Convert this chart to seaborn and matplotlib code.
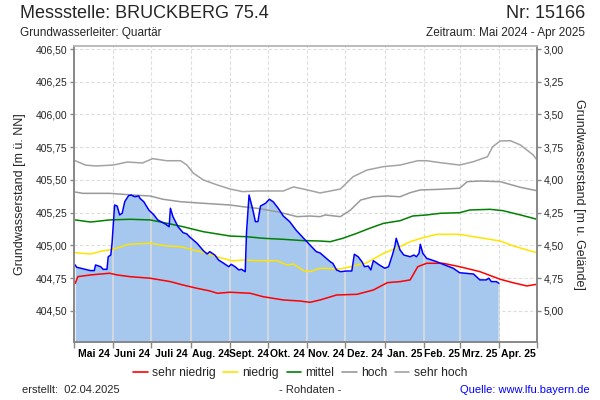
import numpy as np
import pandas as pd
import matplotlib
matplotlib.use('Agg')
import matplotlib.pyplot as plt
from matplotlib.ticker import FuncFormatter
from matplotlib.lines import Line2D
import seaborn as sns

START = '2024-05-01'
GROUND = 409.50

month_labels = ['Mai 24', 'Juni 24', 'Juli 24', 'Aug. 24', 'Sept. 24', 'Okt. 24',
                'Nov. 24', 'Dez. 24', 'Jan. 25', 'Feb. 25', 'Mrz. 25', 'Apr. 25']

# measured raw data (day offset from 2024-05-01, level m ü. NN)
mess_days = [1, 2, 13, 16, 17, 21, 23, 26, 27, 29, 30, 32, 34, 36, 38, 40, 43, 45, 48, 51,
             52, 55, 59, 63, 66, 72, 75, 76, 78, 82, 86, 89, 91, 97, 102, 105, 107, 111, 114, 118,
             122, 124, 127, 130, 132, 135, 136, 138, 141, 143, 145, 147, 151, 154, 157, 161, 165, 170, 175, 181,
             186, 191, 194, 202, 204, 207, 210, 215, 219, 221, 224, 227, 229, 232, 234, 236, 240, 245, 248, 251,
             253, 254, 257, 260, 265, 268, 270, 272, 273, 275, 278, 282, 286, 291, 299, 304, 315, 320, 325, 327,
             329, 333, 335]
mess_vals = [404.851, 404.834, 404.808, 404.808, 404.851, 404.838, 404.818, 404.818, 404.914, 404.927,
             405.017, 405.309, 405.301, 405.233, 405.246, 405.334, 405.380, 405.385, 405.372, 405.378,
             405.360, 405.334, 405.271, 405.233, 405.195, 405.164, 405.143, 405.284, 405.220, 405.143,
             405.098, 405.088, 405.067, 405.017, 404.960, 404.935, 404.953, 404.927, 404.889, 404.864,
             404.838, 404.856, 404.838, 404.813, 404.818, 404.800, 405.100, 405.385, 405.271, 405.182,
             405.182, 405.301, 405.322, 405.353, 405.334, 405.284, 405.225, 405.182, 405.118, 405.055,
             405.004, 404.953, 404.943, 404.876, 404.864, 404.813, 404.800, 404.805, 404.805, 404.933,
             404.914, 404.876, 404.838, 404.843, 404.813, 404.884, 404.856, 404.826, 404.838, 404.927,
             404.996, 405.055, 404.966, 404.927, 404.914, 404.927, 404.914, 404.940, 405.009, 404.940,
             404.902, 404.889, 404.876, 404.856, 404.826, 404.792, 404.782, 404.737, 404.737, 404.750,
             404.724, 404.724, 404.711]

sehr_niedrig_days = [1, 3, 13, 28, 34, 44, 60, 76, 86, 97, 107, 113, 123, 139, 149, 165, 178, 186, 194, 207,
                     223, 236, 247, 257, 265, 271, 278, 291, 304, 320, 336, 346, 357, 365]
sehr_niedrig_vals = [404.711, 404.762, 404.775, 404.788, 404.775, 404.762, 404.750, 404.724, 404.698, 404.673,
                     404.653, 404.635, 404.643, 404.635, 404.609, 404.584, 404.576, 404.566, 404.584, 404.622,
                     404.627, 404.660, 404.716, 404.724, 404.737, 404.838, 404.864, 404.864, 404.838, 404.800,
                     404.742, 404.716, 404.691, 404.704]

niedrig_days = [1, 13, 23, 31, 43, 60, 73, 84, 94, 105, 115, 125, 133, 144, 160, 168, 173, 181, 186, 194,
                210, 218, 231, 244, 257, 265, 275, 286, 304, 320, 336, 346, 357, 365]
niedrig_vals = [404.945, 404.935, 404.960, 404.971, 405.009, 405.017, 404.996, 404.991, 404.966, 404.940,
                404.907, 404.882, 404.889, 404.884, 404.884, 404.851, 404.859, 404.808, 404.800, 404.826,
                404.821, 404.838, 404.869, 404.940, 404.991, 405.029, 405.059, 405.085, 405.085, 405.059,
                405.034, 404.998, 404.966, 404.945]

mittel_days = [1, 13, 28, 44, 60, 76, 86, 102, 113, 123, 136, 149, 165, 181, 194, 202, 212, 223, 233, 244,
               257, 267, 278, 289, 304, 312, 328, 338, 352, 365]
mittel_vals = [405.195, 405.179, 405.195, 405.200, 405.195, 405.164, 405.143, 405.105, 405.088, 405.072,
               405.067, 405.055, 405.047, 405.037, 405.034, 405.029, 405.055, 405.093, 405.131, 405.169,
               405.189, 405.225, 405.233, 405.246, 405.250, 405.271, 405.276, 405.266, 405.233, 405.200]

hoch_days = [1, 7, 28, 50, 60, 70, 84, 102, 123, 133, 144, 160, 176, 186, 194, 198, 210, 218, 226, 236,
             247, 257, 265, 273, 289, 304, 310, 320, 336, 352, 362, 365]
hoch_vals = [405.408, 405.398, 405.398, 405.383, 405.378, 405.353, 405.334, 405.322, 405.309, 405.296,
             405.284, 405.258, 405.220, 405.225, 405.220, 405.233, 405.220, 405.271, 405.347, 405.372,
             405.378, 405.372, 405.403, 405.424, 405.429, 405.437, 405.487, 405.492, 405.487, 405.444,
             405.424, 405.418]

sehr_hoch_days = [1, 9, 17, 31, 42, 54, 62, 73, 84, 89, 94, 102, 113, 123, 133, 144, 165, 173, 184, 194,
                  210, 220, 231, 244, 257, 271, 278, 289, 304, 315, 326, 330, 336, 344, 352, 362, 365]
sehr_hoch_vals = [405.647, 405.614, 405.607, 405.614, 405.637, 405.630, 405.663, 405.647, 405.647, 405.614,
                  405.553, 405.500, 405.462, 405.431, 405.411, 405.416, 405.416, 405.447, 405.424, 405.401,
                  405.431, 405.525, 405.576, 405.602, 405.614, 405.647, 405.647, 405.632, 405.614, 405.640,
                  405.678, 405.754, 405.798, 405.800, 405.767, 405.691, 405.653]

series_names = ['sehr niedrig', 'niedrig', 'mittel', 'hoch', 'sehr hoch']
series_colors = ['#FF0000', '#FFE400', '#008000', '#9A9A9A', '#A3A3A3']


def to_dates(days):
    return pd.Timestamp(START) + pd.to_timedelta(days, unit='D')


sns.set_theme(style='white')
plt.rcParams['font.family'] = ['Liberation Sans', 'DejaVu Sans']

fig = plt.figure(figsize=(6, 4), dpi=100)
ax = fig.add_axes([74 / 600, 1 - 342 / 400, (537 - 74) / 600, (342 - 46) / 400])

y_bottom, y_top = 404.263, 406.523

# statistics lines
frames = []
for name, d, v in zip(series_names,
                      [sehr_niedrig_days, niedrig_days, mittel_days, hoch_days, sehr_hoch_days],
                      [sehr_niedrig_vals, niedrig_vals, mittel_vals, hoch_vals, sehr_hoch_vals]):
    frames.append(pd.DataFrame({'Datum': to_dates(d), 'Wert': v, 'Reihe': name}))
stats = pd.concat(frames, ignore_index=True)

mess_dates = to_dates(mess_days)
poly = ax.fill_between(mess_dates, mess_vals, y_bottom - 1, color='#A6C8EF', lw=0, zorder=1)

sns.lineplot(data=stats, x='Datum', y='Wert', hue='Reihe', hue_order=series_names,
             palette=dict(zip(series_names, series_colors)), estimator=None, lw=1.1,
             legend=False, ax=ax, zorder=2)
sns.lineplot(x=mess_dates, y=mess_vals, color='#0000FF', lw=1.1, estimator=None, ax=ax, zorder=3)

month_starts = pd.date_range('2024-05-01', '2025-05-01', freq='MS')
mids = month_starts[:-1] + (month_starts[1:] - month_starts[:-1]) / 2

ax.set_xlim(month_starts[0], month_starts[-1])
ax.set_ylim(y_bottom, y_top)

# light vertical lines through the filled area
clip_path = poly.get_paths()[0]
for m in month_starts[1:-1]:
    ln = ax.axvline(m, color='#DCDCDC', lw=1.2, zorder=1.5)
    ln.set_clip_path(clip_path, transform=ax.transData)

ax.set_xticks(month_starts)
ax.set_xticklabels([])
ax.set_xticks(mids, minor=True)
ax.set_xticklabels(month_labels, minor=True, fontweight='bold')
ax.tick_params(axis='x', which='major', length=4, width=1, color='#888888', direction='out', bottom=True)
ax.tick_params(axis='x', which='minor', length=0, pad=5, labelsize=7.5, labelcolor='black', bottom=True)

ax.set_yticks(np.arange(404.5, 406.51, 0.25))
fmt = FuncFormatter(lambda v, p: f"{v:.2f}".replace('.', ','))
ax.yaxis.set_major_formatter(fmt)
ax.tick_params(axis='y', length=3, width=1, color='#888888', labelsize=7.5, pad=2, left=True)

ax.grid(True, which='major', axis='both', color='#DDDDDD', ls=(0, (3, 2)), lw=0.8)
ax.set_axisbelow(True)
ax.set_xlabel('')
ax.set_ylabel('Grundwasserstand [m ü. NN]', fontsize=9, va='center')
ax.yaxis.set_label_coords(-0.1166, 0.5)

ax2 = ax.twinx()
ax2.set_ylim(GROUND - y_bottom, GROUND - y_top)
ax2.set_yticks(np.arange(3.0, 5.01, 0.25))
ax2.yaxis.set_major_formatter(fmt)
ax2.tick_params(axis='y', length=3, width=1, color='#888888', labelsize=7.5, pad=2, right=True)
ax2.grid(False)
ax2.set_ylabel('Grundwasserstand [m u. Gelände]', fontsize=9, rotation=270, va='center')
ax2.yaxis.set_label_coords(1.09, 0.5)

for a in (ax, ax2):
    for side in ('left', 'right', 'bottom'):
        a.spines[side].set_color('#888888')
        a.spines[side].set_linewidth(1.2)
    a.spines['top'].set_color('#BBBBBB')
    a.spines['top'].set_linewidth(1.2)

# texts
fig.text(20 / 600, 1 - 13 / 400, 'Messstelle: BRUCKBERG 75.4', fontsize=13, ha='left', va='center')
fig.text(585 / 600, 1 - 13 / 400, 'Nr: 15166', fontsize=13, ha='right', va='center')
fig.text(20 / 600, 1 - 33 / 400, 'Grundwasserleiter: Quartär', fontsize=8.5, ha='left', va='center')
fig.text(585 / 600, 1 - 33 / 400, 'Zeitraum: Mai 2024 - Apr 2025', fontsize=8.5, ha='right', va='center')
fig.text(22 / 600, 1 - 390 / 400, 'erstellt:  02.04.2025', fontsize=8, ha='left', va='center')
fig.text(310 / 600, 1 - 390 / 400, '- Rohdaten -', fontsize=8, ha='center', va='center')
fig.text(590 / 600, 1 - 390 / 400, 'Quelle: www.lfu.bayern.de', fontsize=8, color='#0000FF',
         ha='right', va='center')

handles = [Line2D([0], [0], color=c, lw=1.2) for c in series_colors]
fig.legend(handles, series_names, loc='center', bbox_to_anchor=(0.5, 1 - 373 / 400), ncol=5,
           frameon=False, fontsize=8.7, handlelength=1.2, handletextpad=0.35, columnspacing=0.65,
           borderpad=0, borderaxespad=0)

fig.savefig('out.png', dpi=100)
